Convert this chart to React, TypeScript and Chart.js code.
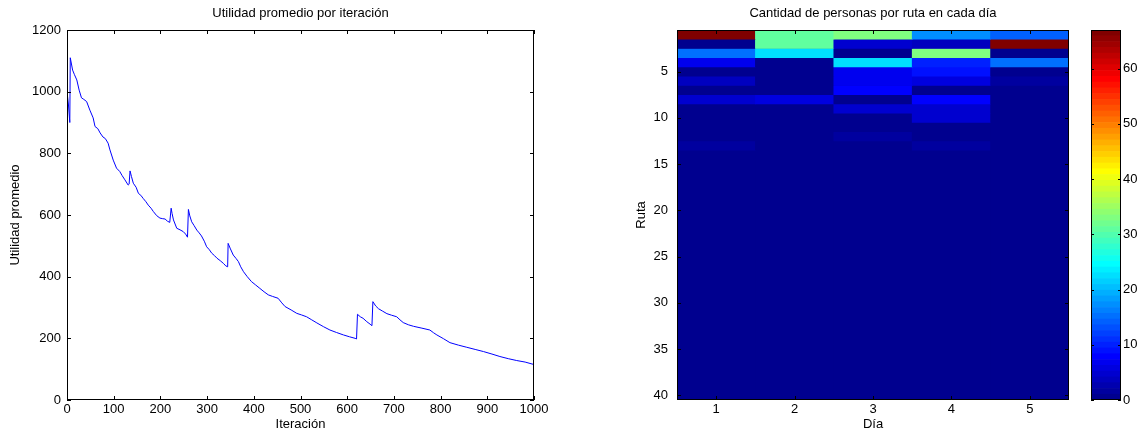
import React, { useEffect, useRef } from 'react';
import { Chart, registerables } from 'chart.js';
Chart.register(...registerables);

// ---------- Left chart data: Utilidad promedio por iteración ----------
const iterX = [
  0, 3, 6, 7, 12, 16, 21, 26, 31, 36, 42, 49, 56, 60, 66, 71, 77, 82, 88, 92,
  99, 106, 113, 118, 124, 131, 133, 135, 138, 142, 148, 153, 158, 163, 169, 174, 180, 185, 192, 199,
  205, 210, 215, 220, 223, 225, 228, 235, 242, 249, 254, 258, 260, 263, 267, 272, 278, 283, 288, 294,
  299, 305, 310, 316, 321, 328, 335, 340, 344, 345, 350, 356, 362, 367, 372, 378, 386, 395, 404, 413,
  422, 431, 440, 452, 460, 467, 480, 492, 502, 513, 524, 535, 549, 563, 577, 592, 605, 617, 620, 622,
  628, 634, 642, 649, 653, 655, 661, 667, 676, 685, 695, 706, 713, 720, 731, 742, 760, 777, 785, 792,
  806, 820, 838, 856, 874, 892, 910, 927, 945, 963, 981, 1000,
];
const iterY = [
  1000, 960, 900, 1110, 1070, 1055, 1038, 1005, 980, 975, 968, 940, 915, 887, 880, 866, 853, 848, 833, 811,
  778, 752, 741, 728, 714, 697, 700, 743, 725, 703, 690, 670, 664, 654, 643, 632, 622, 611, 598, 590,
  588, 587, 580, 576, 622, 605, 584, 557, 552, 546, 538, 528, 618, 597, 578, 566, 551, 542, 532, 515,
  497, 487, 476, 468, 460, 452, 443, 435, 432, 508, 490, 470, 459, 449, 432, 416, 400, 384, 373, 362,
  351, 341, 336, 330, 315, 303, 292, 281, 276, 270, 260, 250, 238, 227, 219, 211, 205, 200, 198, 278,
  270, 265, 254, 246, 241, 319, 305, 296, 288, 280, 275, 270, 260, 251, 244, 239, 233, 227, 218, 211,
  199, 186, 178, 171, 164, 157, 149, 141, 134, 128, 123, 115,
];
const iterTicks = [0, 100, 200, 300, 400, 500, 600, 700, 800, 900, 1000];
const utilTicks = [0, 200, 400, 600, 800, 1000, 1200];

// ---------- Right chart data: Cantidad de personas por ruta en cada día ----------
const dayLabels = ['1', '2', '3', '4', '5'];
const routeTicks = [5, 10, 15, 20, 25, 30, 35, 40];
const day1 = [67, 1, 15, 7, 1, 4, 1, 5, 0, 0, 0, 0, 2, 0, 0, 0, 0, 0, 0, 0, 0, 0, 0, 0, 0, 0, 0, 0, 0, 0, 0, 0, 0, 0, 0, 0, 0, 0, 0, 0];
const day2 = [31, 31, 23, 1, 1, 1, 1, 6, 0, 0, 0, 0, 0, 0, 0, 0, 0, 0, 0, 0, 0, 0, 0, 0, 0, 0, 0, 0, 0, 0, 0, 0, 0, 0, 0, 0, 0, 0, 0, 0];
const day3 = [33, 5, 1, 22, 7, 7, 8, 1, 5, 0, 0, 2, 0, 0, 0, 0, 0, 0, 0, 0, 0, 0, 0, 0, 0, 0, 0, 0, 0, 0, 0, 0, 0, 0, 0, 0, 0, 0, 0, 0];
const day4 = [17, 4, 33, 10, 9, 6, 1, 8, 5, 5, 0, 0, 2, 0, 0, 0, 0, 0, 0, 0, 0, 0, 0, 0, 0, 0, 0, 0, 0, 0, 0, 0, 0, 0, 0, 0, 0, 0, 0, 0];
const day5 = [14, 66, 1, 15, 1, 2, 1, 1, 0, 0, 0, 0, 0, 0, 0, 0, 0, 0, 0, 0, 0, 0, 0, 0, 0, 0, 0, 0, 0, 0, 0, 0, 0, 0, 0, 0, 0, 0, 0, 0];
const colorbarTicks = [0, 10, 20, 30, 40, 50, 60];

const days = [day1, day2, day3, day4, day5];
const cmax = Math.max(...days.map((d) => Math.max(...d)));
const NCOL = 64;

// MATLAB jet(64)
function jetU(k: number) {
  if (k < 1 || k > 47) return 0;
  if (k <= 16) return k / 16;
  if (k <= 31) return 1;
  return (48 - k) / 16;
}
function jetColor(i: number) {
  const r = i >= 25 ? jetU(i - 24) : 0;
  const g = i >= 9 && i <= 55 ? jetU(i - 8) : 0;
  const b = i <= 39 ? jetU(i + 8) : 0;
  return `rgb(${Math.round(r * 255)},${Math.round(g * 255)},${Math.round(b * 255)})`;
}
function valueColor(v: number) {
  const i = Math.min(NCOL, Math.floor((v / cmax) * NCOL) + 1);
  return jetColor(i);
}

const FONT = 'Liberation Sans, Arial, Helvetica, sans-serif';
const FS = 13;
Chart.defaults.font.family = FONT;
Chart.defaults.font.size = FS;
Chart.defaults.color = '#000';

const plain = (v: any) => String(v);

const framePlugin = {
  id: 'frame',
  beforeDatasetsDraw(chart: any, _a: any, opts: any) {
    if (!opts || !opts.bg) return;
    const { ctx, chartArea: { left, right, top, bottom } } = chart;
    ctx.save();
    ctx.fillStyle = opts.bg;
    ctx.fillRect(left, top, right - left, bottom - top);
    ctx.restore();
  },
  afterDatasetsDraw(chart: any, _a: any, opts: any) {
    const { ctx, chartArea: { left, right, top, bottom } } = chart;
    const L = (opts && opts.len) || 4;
    ctx.save();
    ctx.strokeStyle = '#000';
    ctx.lineWidth = 1;
    ctx.beginPath();
    const xs = chart.scales.x;
    if (opts && opts.xTicks && xs) {
      xs.ticks.forEach((_t: any, i: number) => {
        const px = Math.round(xs.getPixelForTick(i)) + 0.5;
        ctx.moveTo(px, bottom);
        ctx.lineTo(px, bottom - L);
        ctx.moveTo(px, top);
        ctx.lineTo(px, top + L);
      });
    }
    const ys = chart.scales.y;
    if (opts && opts.yTicks && ys) {
      ys.ticks.forEach((_t: any, i: number) => {
        const py = Math.round(ys.getPixelForTick(i)) + 0.5;
        ctx.moveTo(left, py);
        ctx.lineTo(left + L, py);
        ctx.moveTo(right, py);
        ctx.lineTo(right - L, py);
      });
    }
    ctx.stroke();
    ctx.strokeRect(Math.round(left) + 0.5, Math.round(top) + 0.5, Math.round(right - left) - 1, Math.round(bottom - top) - 1);
    ctx.restore();
  },
};

const noGrid = { display: false, drawTicks: false, tickLength: 0 };
const titleFont = { size: FS, weight: 'normal', family: FONT };

function lineConfig(): any {
  return {
    type: 'line',
    data: {
      datasets: [
        {
          data: iterX.map((x, i) => ({ x, y: iterY[i] })),
          borderColor: 'rgb(0,0,255)',
          borderWidth: 1,
          pointRadius: 0,
          tension: 0,
          fill: false,
        },
      ],
    },
    options: {
      animation: false,
      responsive: false,
      devicePixelRatio: 1,
      layout: { padding: { left: 0, right: 26, top: 0, bottom: 0 } },
      plugins: {
        legend: { display: false },
        tooltip: { enabled: false },
        title: {
          display: true,
          text: 'Utilidad promedio por iteración',
          fullSize: false,
          color: '#000',
          font: titleFont,
          padding: { top: 5.2, bottom: 9.2 },
        },
        frame: { xTicks: true, yTicks: true, len: 4 },
      },
      scales: {
        x: {
          type: 'linear',
          min: 0,
          max: 1000,
          grid: noGrid,
          border: { display: false },
          afterBuildTicks: (s: any) => { s.ticks = iterTicks.map((v) => ({ value: v })); },
          afterFit: (s: any) => { s.height = 37; },
          ticks: { padding: 2, autoSkip: false, maxRotation: 0, color: '#000', font: { size: FS }, callback: plain },
          title: { display: true, text: 'Iteración', color: '#000', font: { size: FS }, padding: { top: 0, bottom: 5.2 } },
        },
        y: {
          type: 'linear',
          min: 0,
          max: 1200,
          grid: noGrid,
          border: { display: false },
          afterBuildTicks: (s: any) => { s.ticks = utilTicks.map((v) => ({ value: v })); },
          afterFit: (s: any) => { s.width = 67; },
          ticks: { padding: 6, autoSkip: false, color: '#000', font: { size: FS }, callback: plain },
          title: { display: true, text: 'Utilidad promedio', color: '#000', font: { size: FS }, padding: { top: 7.2, bottom: 0 } },
        },
      },
    },
    plugins: [framePlugin],
  };
}

function heatConfig(): any {
  const datasets = [] as any[];
  for (let r = 0; r < 40; r++) {
    datasets.push({
      data: days.map(() => [r + 0.5, r + 1.5]),
      backgroundColor: days.map((d) => valueColor(d[r])),
      borderWidth: 0,
      grouped: false,
      barPercentage: 1,
      categoryPercentage: 1,
    });
  }
  return {
    type: 'bar',
    data: { labels: dayLabels, datasets },
    options: {
      animation: false,
      responsive: false,
      devicePixelRatio: 1,
      layout: { padding: { left: 0, right: 11, top: 0, bottom: 0 } },
      plugins: {
        legend: { display: false },
        tooltip: { enabled: false },
        title: {
          display: true,
          text: 'Cantidad de personas por ruta en cada día',
          fullSize: false,
          color: '#000',
          font: titleFont,
          padding: { top: 5.2, bottom: 9.2 },
        },
        frame: { xTicks: true, yTicks: true, len: 4, bg: jetColor(1) },
      },
      scales: {
        x: {
          type: 'category',
          offset: true,
          grid: { ...noGrid, offset: true },
          border: { display: false },
          afterFit: (s: any) => { s.height = 37; },
          ticks: { padding: 2, autoSkip: false, maxRotation: 0, color: '#000', font: { size: FS } },
          title: { display: true, text: 'Día', color: '#000', font: { size: FS }, padding: { top: 0, bottom: 5.2 } },
        },
        y: {
          type: 'linear',
          reverse: true,
          min: 0.5,
          max: 40.5,
          grid: noGrid,
          border: { display: false },
          afterBuildTicks: (s: any) => { s.ticks = routeTicks.map((v) => ({ value: v })); },
          afterFit: (s: any) => { s.width = 77; },
          ticks: { padding: 9, autoSkip: false, color: '#000', font: { size: FS }, callback: plain },
          title: { display: true, text: 'Ruta', color: '#000', font: { size: FS }, padding: { top: 33.2, bottom: 0 } },
        },
      },
    },
    plugins: [framePlugin],
  };
}

function colorbarConfig(): any {
  const datasets = [] as any[];
  for (let k = 0; k < NCOL; k++) {
    datasets.push({
      data: [[(k * cmax) / NCOL, ((k + 1) * cmax) / NCOL]],
      backgroundColor: jetColor(k + 1),
      borderWidth: 0,
      grouped: false,
      barPercentage: 1,
      categoryPercentage: 1,
    });
  }
  return {
    type: 'bar',
    data: { labels: [''], datasets },
    options: {
      animation: false,
      responsive: false,
      devicePixelRatio: 1,
      layout: { padding: { left: 6, right: 0, top: 30, bottom: 37 } },
      plugins: {
        legend: { display: false },
        tooltip: { enabled: false },
        frame: { xTicks: false, yTicks: true, len: 3 },
      },
      scales: {
        x: { type: 'category', display: false, offset: true },
        y: {
          type: 'linear',
          position: 'right',
          min: 0,
          max: cmax,
          grid: noGrid,
          border: { display: false },
          afterBuildTicks: (s: any) => { s.ticks = colorbarTicks.map((v) => ({ value: v })); },
          afterFit: (s: any) => { s.width = 18; },
          ticks: { padding: 2, autoSkip: false, color: '#000', font: { size: FS }, callback: plain },
        },
      },
    },
    plugins: [framePlugin],
  };
}

function ChartCanvas({ make, left, w, h }: { make: () => any; left: number; w: number; h: number }) {
  const ref = useRef<HTMLCanvasElement | null>(null);
  useEffect(() => {
    const c = new Chart(ref.current as HTMLCanvasElement, make());
    return () => c.destroy();
  }, []);
  return (
    <canvas
      ref={ref}
      width={w}
      height={h}
      style={{ position: 'absolute', left, top: 0, width: w, height: h, display: 'block' }}
    />
  );
}

export default function App() {
  return (
    <div style={{ position: 'fixed', left: 0, top: 0, width: 1139, height: 437, background: '#fff', overflow: 'hidden' }}>
      <ChartCanvas make={lineConfig} left={0} w={560} h={437} />
      <ChartCanvas make={heatConfig} left={600} w={480} h={437} />
      <ChartCanvas make={colorbarConfig} left={1085} w={54} h={437} />
    </div>
  );
}
